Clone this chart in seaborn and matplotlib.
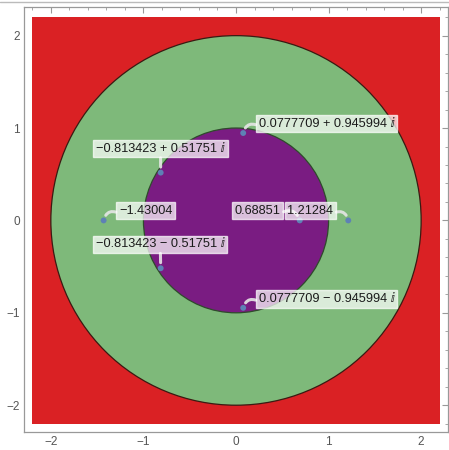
import numpy as np
import pandas as pd
import matplotlib
matplotlib.use('Agg')
import matplotlib.pyplot as plt
import matplotlib.patches as mpatches
from matplotlib.lines import Line2D
from matplotlib.ticker import MultipleLocator
import seaborn as sns

# roots (real, imag) and their labels
re_part = [0.0777709, -0.813423, -1.43004, 0.68851, 1.21284, -0.813423, 0.0777709]
im_part = [0.945994, 0.51751, 0.0, 0.0, 0.0, -0.51751, -0.945994]
labels = ['0.0777709 + 0.945994 \u2148', '\u22120.813423 + 0.51751 \u2148', '\u22121.43004',
          '0.68851', '1.21284', '\u22120.813423 \u2212 0.51751 \u2148',
          '0.0777709 \u2212 0.945994 \u2148']

# regions
box_half = 2.2
outer_r = 2.0
inner_r = 1.0

df = pd.DataFrame({'re': re_part, 'im': im_part, 'label': labels})

sns.set_style('white')
plt.rcParams['font.family'] = ['Liberation Sans', 'DejaVu Sans']

fig = plt.figure(figsize=(4.49, 4.50), dpi=100)
ax = fig.add_axes([24/449, 18/450, 424/449, 425/450])

ax.add_patch(mpatches.Rectangle((-box_half, -box_half), 2*box_half, 2*box_half,
                                fc='#da2124', ec='none', zorder=0))
ax.add_patch(mpatches.Circle((0, 0), outer_r, fc='#7eb97a', ec='#3a1a12', lw=0.9, zorder=1))
ax.add_patch(mpatches.Circle((0, 0), inner_r, fc='#7a1c82', ec='#2f4a2c', lw=0.9, zorder=2))

sns.scatterplot(data=df, x='re', y='im', color='#5e81b5', s=18, edgecolor='none',
                zorder=5, ax=ax, legend=False)

# label anchors (layout only): x, y, horizontal alignment, leader start, leader curvature
label_pos = [(0.245, 1.049, 'left', (0, 0.3), 0.6),
             (-0.815, 0.775, 'center', (0.5, 0), 0.0),
             (-1.264, 0.103, 'left', (0, 0.3), 0.6),
             (0.482, 0.103, 'right', (1, 0.3), -0.6),
             (1.050, 0.103, 'right', (1, 0.3), -0.6),
             (-0.817, -0.259, 'center', (0.5, 0), 0.0),
             (0.245, -0.851, 'left', (0, 0.3), 0.6)]
for (px, py, lab), (tx, ty, ha, rp, rad) in zip(df[['re', 'im', 'label']].values, label_pos):
    ax.annotate(lab, xy=(px, py), xytext=(tx, ty), ha=ha, va='center',
                fontsize=9.2, color='#1a1a1a', zorder=6,
                bbox=dict(boxstyle='square,pad=0.2', fc='white', ec='white',
                          alpha=0.72, lw=1.0),
                arrowprops=dict(arrowstyle='-', color='#e6e6e6', lw=2.2, alpha=0.9,
                                shrinkA=0, shrinkB=4, relpos=rp,
                                connectionstyle='arc3,rad=%s' % rad))

ax.set_xlim(-2.29, 2.29)
ax.set_ylim(-2.29, 2.31)
ax.set_xlabel('')
ax.set_ylabel('')
ax.xaxis.set_major_locator(MultipleLocator(1))
ax.yaxis.set_major_locator(MultipleLocator(1))
ax.xaxis.set_minor_locator(MultipleLocator(0.2))
ax.yaxis.set_minor_locator(MultipleLocator(0.2))
ax.xaxis.set_major_formatter(plt.FuncFormatter(lambda v, p: ('%d' % round(v)).replace('-', '\u2212')))
ax.yaxis.set_major_formatter(plt.FuncFormatter(lambda v, p: ('%d' % round(v)).replace('-', '\u2212')))
ax.tick_params(which='both', direction='in', top=True, right=True, color='#999999',
               labelsize=8.5, labelcolor='#555555')
ax.tick_params(which='major', length=4.5, width=0.8, pad=3)
ax.tick_params(which='minor', length=2.5, width=0.6)
for sp in ax.spines.values():
    sp.set_color('#999999')
    sp.set_linewidth(0.9)

fig.add_artist(Line2D([0, 1], [1 - 2/450, 1 - 2/450], color='#bbbbbb', lw=1.0))

fig.savefig('out.png', dpi=100)
